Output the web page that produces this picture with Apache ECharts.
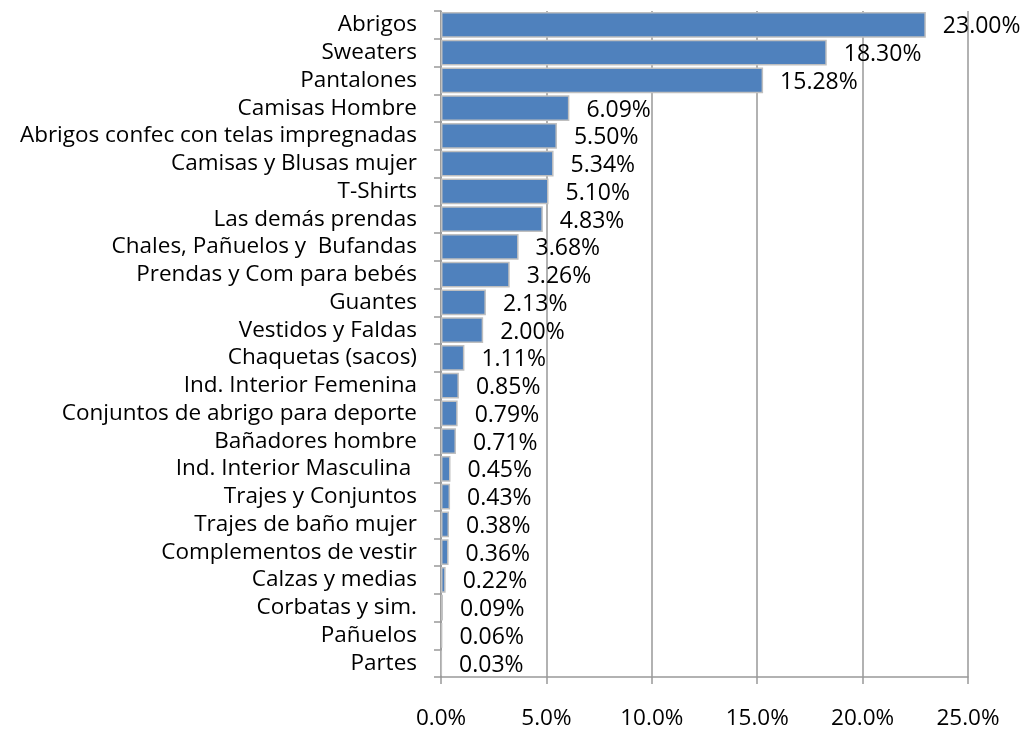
<!DOCTYPE html>
<html><head><meta charset="utf-8">
<script src="https://cdn.jsdelivr.net/npm/echarts@6/dist/echarts.min.js"></script>
<style>html,body{margin:0;padding:0;background:#fff}#c{width:1026px;height:735px}</style>
</head><body><div id="c"></div>
<script>
const categories = ["Abrigos","Sweaters","Pantalones","Camisas Hombre","Abrigos confec con telas impregnadas","Camisas y Blusas mujer","T-Shirts","Las demás prendas","Chales, Pañuelos y  Bufandas","Prendas y Com para bebés","Guantes","Vestidos y Faldas","Chaquetas (sacos)","Ind. Interior Femenina","Conjuntos de abrigo para deporte","Bañadores hombre","Ind. Interior Masculina ","Trajes y Conjuntos","Trajes de baño mujer","Complementos de vestir","Calzas y medias","Corbatas y sim.","Pañuelos","Partes"];
const values = [23.00,18.30,15.28,6.09,5.50,5.34,5.10,4.83,3.68,3.26,2.13,2.00,1.11,0.85,0.79,0.71,0.45,0.43,0.38,0.36,0.22,0.09,0.06,0.03];
const xTicks = [0,5,10,15,20,25];

const font = "'Open Sans', 'Noto Sans', sans-serif";
const chart = echarts.init(document.getElementById('c'));
chart.setOption({
  animation:false,
  grid:{left:441,right:58,top:11,bottom:58,containLabel:false},
  xAxis:{type:'value',min:xTicks[0],max:xTicks[xTicks.length-1],interval:5,
    axisLine:{show:true,lineStyle:{color:'#999',width:1.5}},
    axisTick:{show:true,length:7,lineStyle:{color:'#999',width:1.5}},
    splitLine:{show:true,lineStyle:{color:'#999',width:1.5}},
    axisLabel:{margin:30,fontSize:22.5,color:'#000',fontFamily:font,formatter:v=>v.toFixed(1)+'%'}},
  yAxis:{type:'category',inverse:true,data:categories,
    axisLine:{show:true,lineStyle:{color:'#999',width:1.5}},
    axisTick:{show:true,length:7,lineStyle:{color:'#999',width:1.5}},
    axisLabel:{interval:0,margin:24,fontSize:22.5,color:'#000',fontFamily:font,padding:[4,0,0,0]}},
  series:[{type:'bar',data:values,barCategoryGap:'7%',
    itemStyle:{color:'#4f81bd',borderColor:'#bfbfbf',borderWidth:1.5},
    label:{show:true,position:'right',distance:17,offset:[0,2],fontSize:23,color:'#000',fontFamily:font,
      formatter:p=>p.value.toFixed(2)+'%'}}]
});
</script></body></html>
